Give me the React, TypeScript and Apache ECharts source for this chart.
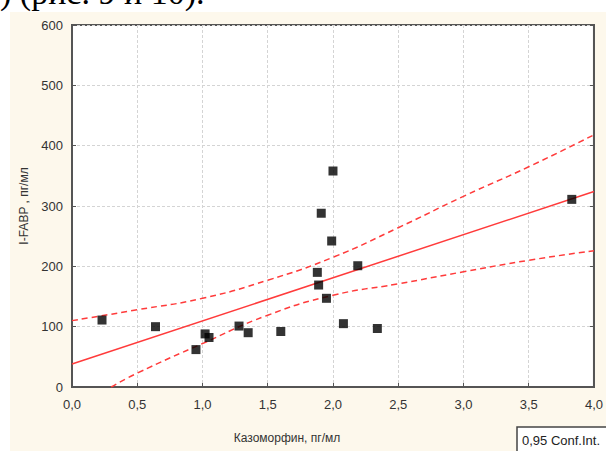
import React, { useEffect, useRef } from "react";
import * as echarts from "echarts";

const kazomorfin = [0.23, 0.64, 0.95, 1.02, 1.05, 1.28, 1.35, 1.6, 1.88, 1.89, 1.91, 1.95, 1.99, 2.0, 2.08, 2.19, 2.34, 3.83];
const ifabp = [111, 100, 62, 88, 82, 101, 90, 92, 190, 169, 288, 147, 242, 358, 105, 201, 97, 311];
const fitX = [0, 4];
const fitY = [38, 324];
const bandX = [0, 0.5, 1.0, 1.5, 2.0, 2.5, 3.0, 3.5, 4.0];
const upperY = [110, 128, 147, 177, 215, 264, 316, 365, 418];
const lowerX = [0.3, 0.5, 1.0, 1.5, 2.0, 2.5, 3.0, 3.5, 4.0];
const lowerY = [0, 23, 72, 119, 152, 171, 191, 210, 226];
const xTitle = "Казоморфин, пг/мл";
const yTitle = "I-FABP , пг/мл";
const topText = ") (рис. 9 и 10).";
const legendText = "0,95 Conf.Int.";

const zip = (a: number[], b: number[]) => a.map((v, i) => [v, b[i]]);

export default function App() {
  const ref = useRef<HTMLDivElement>(null);
  useEffect(() => {
    if (!ref.current) return;
    const chart = echarts.init(ref.current, null, { renderer: "svg" });
    const labelStyle = { color: "#333", fontSize: 13, fontFamily: "Liberation Sans" };
    const red = "#ff3b3b";
    chart.setOption({
      animation: false,
      backgroundColor: "#ffffff",
      graphic: [
        {
          type: "text",
          z: -20,
          x: 0,
          y: -8,
          style: { text: topText, font: "34px 'Liberation Serif'", fill: "#000", verticalAlign: "middle" },
        },
        {
          type: "rect",
          z: -10,
          shape: { x: 10, y: 12, width: 600, height: 450 },
          style: { fill: "#fdf8ec" },
        },
        {
          type: "text",
          x: 287,
          y: 438,
          style: { text: xTitle, font: "12px 'Liberation Sans'", fill: "#333", align: "center", verticalAlign: "middle" },
        },
        {
          type: "rect",
          shape: { x: 517, y: 427, width: 100, height: 26 },
          style: { fill: "#fff", stroke: "#444", lineWidth: 1.5 },
        },
        {
          type: "text",
          x: 522,
          y: 440,
          style: { text: legendText, font: "13px 'Liberation Sans'", fill: "#222", verticalAlign: "middle" },
        },
      ],
      grid: {
        left: 72,
        top: 25,
        right: 10,
        bottom: 64,
        show: true,
        backgroundColor: "#ffffff",
        borderColor: "#555",
        borderWidth: 2,
      },
      xAxis: {
        type: "value",
        min: 0,
        max: 4,
        interval: 0.5,
        axisLine: { show: true, onZero: false, lineStyle: { color: "#555", width: 2 } },
        axisTick: { show: true, inside: true, length: 4, lineStyle: { color: "#555" } },
        splitLine: { show: true, lineStyle: { color: "#d4d4d4", type: [3, 2] } },
        axisLabel: { ...labelStyle, margin: 11, formatter: (v: number) => v.toFixed(1).replace(".", ",") },
      },
      yAxis: [
        {
          type: "value",
          min: 0,
          max: 600,
          interval: 100,
          name: yTitle,
          nameLocation: "middle",
          nameGap: 32,
          nameTextStyle: { color: "#333", fontSize: 12, fontFamily: "Liberation Sans" },
          axisLine: { show: true, lineStyle: { color: "#555", width: 2 } },
          axisTick: { show: true, inside: true, length: 4, lineStyle: { color: "#555" } },
          splitLine: { show: true, lineStyle: { color: "#d4d4d4", type: [3, 2] } },
          axisLabel: { ...labelStyle, margin: 9 },
        },
        {
          type: "value",
          position: "right",
          min: 0,
          max: 600,
          interval: 100,
          axisLine: { show: true, lineStyle: { color: "#555", width: 2 } },
          axisTick: { show: true, inside: true, length: 4, lineStyle: { color: "#555" } },
          splitLine: { show: false },
          axisLabel: { show: false },
        },
      ],
      series: [
        {
          type: "line",
          data: zip(fitX, fitY),
          symbol: "none",
          lineStyle: { color: red, width: 1.5 },
          z: 3,
        },
        {
          type: "line",
          data: zip(bandX, upperY),
          symbol: "none",
          smooth: true,
          lineStyle: { color: red, width: 1.5, type: [6, 4] },
          z: 3,
        },
        {
          type: "line",
          data: zip(lowerX, lowerY),
          symbol: "none",
          smooth: true,
          lineStyle: { color: red, width: 1.5, type: [6, 4] },
          z: 3,
        },
        {
          type: "scatter",
          data: zip(kazomorfin, ifabp),
          symbol: "rect",
          symbolSize: 9,
          itemStyle: { color: "#000" },
          z: 4,
        },
      ],
    });
    return () => chart.dispose();
  }, []);
  return <div ref={ref} style={{ width: 606, height: 451, position: "absolute", left: 0, top: 0 }} />;
}
